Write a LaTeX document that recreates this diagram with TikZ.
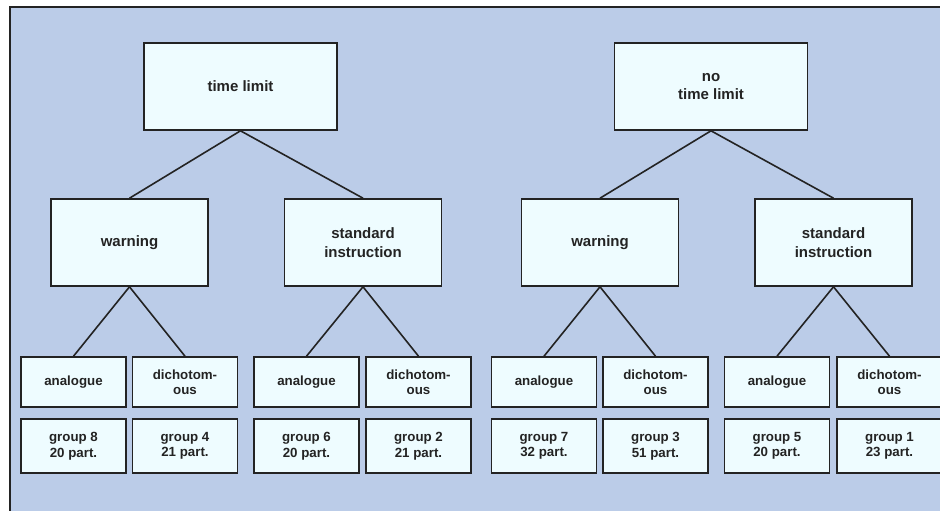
\documentclass[tikz,border=0pt]{standalone}
\usepackage{fontspec}
\setmainfont{Liberation Sans}
\definecolor{panel}{RGB}{187,204,232}
\definecolor{boxfill}{RGB}{238,252,255}
\definecolor{ink}{RGB}{35,35,35}
\begin{document}
\begin{tikzpicture}[x=1pt,y=-1pt,
  box/.style={draw=ink, line width=1.6pt, fill=boxfill, inner sep=0pt, align=center, text=ink},
  bigbox/.style={box, minimum width=157pt, minimum height=87pt, font=\bfseries\fontsize{15}{18.5}\selectfont},
  topbox/.style={bigbox, minimum width=193pt},
  smallbox/.style={box, minimum width=105pt, font=\bfseries\fontsize{13.3}{15.5}\selectfont},
  kindbox/.style={smallbox, minimum height=50pt},
  groupbox/.style={smallbox, minimum height=54pt},
  link/.style={draw=ink, line width=1.6pt}]
\useasboundingbox (0,0) rectangle (940,511);
\fill[white] (0,0) rectangle (940,511);
\draw[fill=panel, draw=ink, line width=1.6pt] (10,7) rectangle (950,520);

\node[topbox] (tl) at (240.5,86.5) {time limit};
\node[topbox] (ntl) at (711,86.5) {no\\time limit};

\node[bigbox] (w1) at (129.5,242.5) {warning};
\node[bigbox] (s1) at (363,242.5) {standard\\instruction};
\node[bigbox] (w2) at (600,242.5) {warning};
\node[bigbox] (s2) at (833.5,242.5) {standard\\instruction};

\node[kindbox] (a1) at (73.5,382) {analogue};
\node[kindbox] (d1) at (185,382) {dichotom-\\ous};
\node[kindbox] (a2) at (306.5,382) {analogue};
\node[kindbox] (d2) at (418.5,382) {dichotom-\\ous};
\node[kindbox] (a3) at (544,382) {analogue};
\node[kindbox] (d3) at (655.5,382) {dichotom-\\ous};
\node[kindbox] (a4) at (777,382) {analogue};
\node[kindbox] (d4) at (889.5,382) {dichotom-\\ous};

\node[groupbox] (g8) at (73.5,446) {group 8\\20 part.};
\node[groupbox] (g4) at (185,446) {group 4\\21 part.};
\node[groupbox] (g6) at (306.5,446) {group 6\\20 part.};
\node[groupbox] (g2) at (418.5,446) {group 2\\21 part.};
\node[groupbox] (g7) at (544,446) {group 7\\32 part.};
\node[groupbox] (g3) at (655.5,446) {group 3\\51 part.};
\node[groupbox] (g5) at (777,446) {group 5\\20 part.};
\node[groupbox] (g1) at (889.5,446) {group 1\\23 part.};

\draw[link] (tl.south) -- (w1.north);
\draw[link] (tl.south) -- (s1.north);
\draw[link] (ntl.south) -- (w2.north);
\draw[link] (ntl.south) -- (s2.north);
\draw[link] (w1.south) -- (a1.north);
\draw[link] (w1.south) -- (d1.north);
\draw[link] (s1.south) -- (a2.north);
\draw[link] (s1.south) -- (d2.north);
\draw[link] (w2.south) -- (a3.north);
\draw[link] (w2.south) -- (d3.north);
\draw[link] (s2.south) -- (a4.north);
\draw[link] (s2.south) -- (d4.north);
\end{tikzpicture}
\end{document}
